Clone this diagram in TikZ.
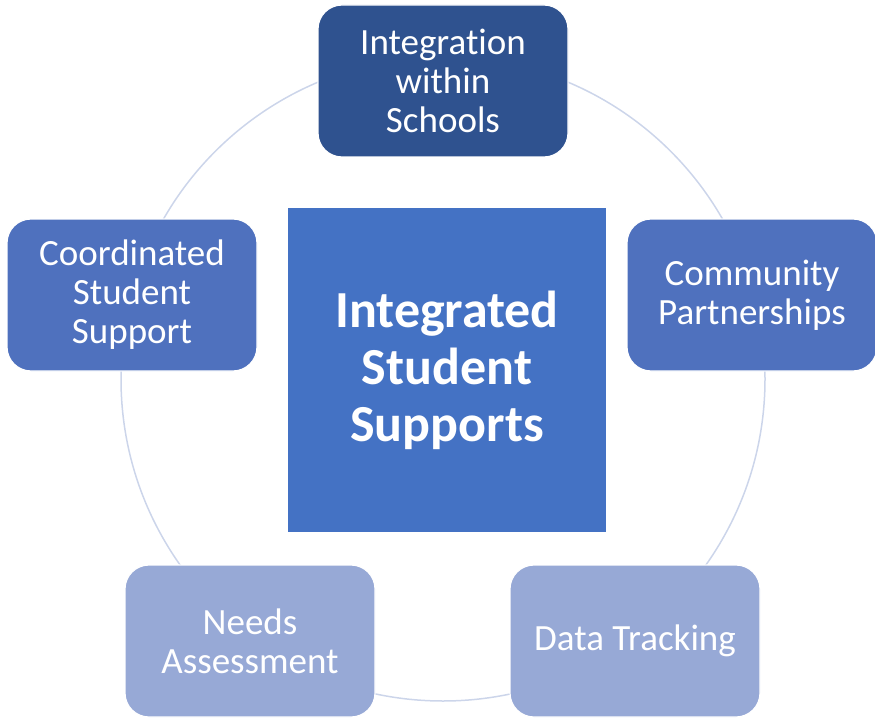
\documentclass[tikz,border=0pt]{standalone}
\usepackage{fontspec}
\setmainfont[Ligatures=NoCommon]{Carlito}
\usepackage{xcolor}
\usepackage{tikz}
\usetikzlibrary{positioning,calc}

\definecolor{darkblue}{HTML}{2F528F}
\definecolor{midblue}{HTML}{4F71BE}
\definecolor{hubblue}{HTML}{4472C4}
\definecolor{paleblue}{HTML}{97A9D6}
\definecolor{ringline}{HTML}{CCD5EA}

\begin{document}
\begin{tikzpicture}[x=1pt, y=-1pt, font=\fontsize{37}{39}\selectfont]
\tikzstyle{spoke}=[draw=white, line width=1.2pt, rounded corners=24pt, align=center, text=white, minimum width=250pt, minimum height=152pt, inner sep=0pt]
\tikzstyle{hub}=[draw=white, line width=1.2pt, align=center, text=white, minimum width=319pt, minimum height=325pt, inner sep=0pt, font=\fontsize{52}{57}\selectfont\bfseries]
\tikzstyle{ring}=[draw=ringline, line width=1.5pt]

\useasboundingbox (0,0) rectangle (875,722);

\coordinate (mid) at (443,379);
\draw[ring] (mid) circle[radius=322pt];

\node[hub, fill=hubblue] (iss) at (447,370) {Integrated\\Student\\Supports};

\node[spoke, fill=darkblue] (schools) at (443,81) {Integration\\within\\Schools};
\node[spoke, fill=midblue] (coord) at (132,295) {Coordinated\\Student\\Support};
\node[spoke, fill=midblue] (comm) at (752,295) {Community\\Partnerships};
\node[spoke, fill=paleblue] (needs) at (250,641) {Needs\\Assessment};
\node[spoke, fill=paleblue] (data) at (635,641) {Data Tracking};
\end{tikzpicture}
\end{document}
